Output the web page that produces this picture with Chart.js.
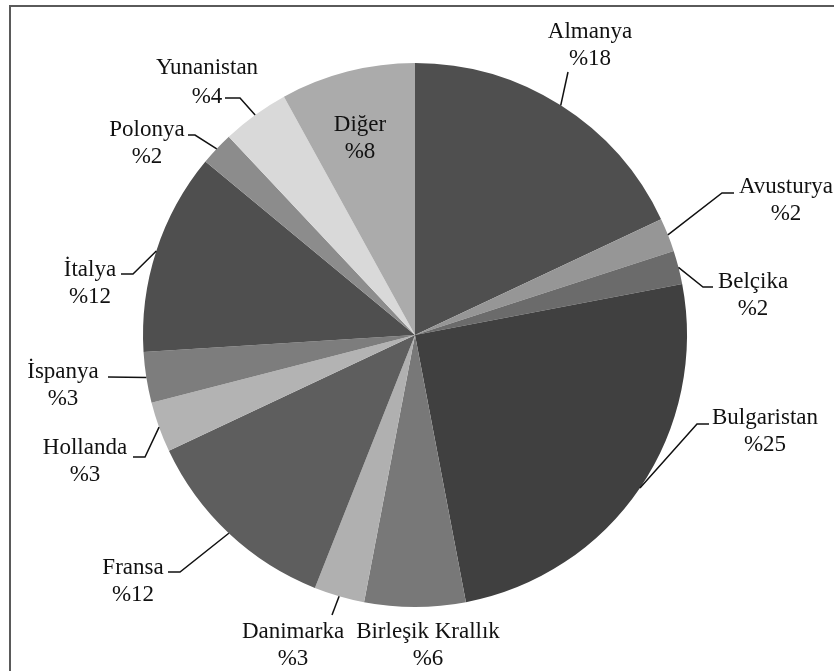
<!DOCTYPE html>
<html>
<head>
<meta charset="utf-8">
<script src="https://cdn.jsdelivr.net/npm/chart.js@4.4.1/dist/chart.umd.min.js"></script>
<style>
  html, body { margin: 0; padding: 0; background: #fff; overflow: hidden; }
  #wrap { position: relative; width: 834px; height: 671px; }
  #frame { position: absolute; left: 9px; top: 5px; width: 900px; height: 800px;
           border: 2px solid #5a5a5a; box-sizing: border-box; }
  canvas { position: absolute; left: 0; top: 0; }
</style>
</head>
<body>
<div id="wrap">
  <div id="frame"></div>
  <canvas id="pieChart" width="834" height="671"></canvas>
</div>
<script>
// data
const categories = ['Almanya', 'Avusturya', 'Belçika', 'Bulgaristan', 'Birleşik Krallık', 'Danimarka',
  'Fransa', 'Hollanda', 'İspanya', 'İtalya', 'Polonya', 'Yunanistan', 'Diğer'];
const shares = [18, 2, 2, 25, 6, 3, 12, 3, 3, 12, 2, 4, 8];
const sliceColors = ['#4f4f4f', '#969696', '#6b6b6b', '#404040', '#787878', '#b0b0b0',
  '#5e5e5e', '#b3b3b3', '#7d7d7d', '#4f4f4f', '#8c8c8c', '#d9d9d9', '#ababab'];

// where each label sits, and the bend/end of its leader line (null = no line)
const labelSpots = [
  { x: 590, y: 32, line: [[568, 72]] },
  { x: 786, y: 187, line: [[722, 193], [734, 193]] },
  { x: 753, y: 282, line: [[703, 287], [713, 287]] },
  { x: 765, y: 418, line: [[697, 424], [709, 424]] },
  { x: 428, y: 632, line: null },
  { x: 293, y: 632, line: [[332, 615]] },
  { x: 133, y: 568, line: [[180, 572], [168, 572]] },
  { x: 85, y: 448, line: [[145, 457], [133, 457]] },
  { x: 63, y: 372, line: [[108, 377]] },
  { x: 90, y: 270, line: [[133, 274], [121, 274]] },
  { x: 147, y: 130, line: [[195, 135], [188, 135]] },
  { x: 207, y: 68, line: [[240, 98], [225, 98]], gap: 29 },
  { x: 360, y: 125, line: null }
];

const pieLabels = {
  id: 'pieLabels',
  afterDraw(chart) {
    const ctx = chart.ctx;
    const meta = chart.getDatasetMeta(0);
    ctx.save();
    ctx.font = '23px "Liberation Serif", "Times New Roman", serif';
    ctx.textAlign = 'center';
    ctx.textBaseline = 'middle';
    ctx.fillStyle = '#111';
    ctx.strokeStyle = '#111';
    ctx.lineWidth = 1.5;
    meta.data.forEach((arc, i) => {
      const spot = labelSpots[i];
      if (spot.line) {
        const p = arc.getProps(['x', 'y', 'startAngle', 'endAngle', 'outerRadius'], true);
        const mid = (p.startAngle + p.endAngle) / 2;
        ctx.beginPath();
        ctx.moveTo(p.x + Math.cos(mid) * p.outerRadius, p.y + Math.sin(mid) * p.outerRadius);
        spot.line.forEach(pt => ctx.lineTo(pt[0], pt[1]));
        ctx.stroke();
      }
      ctx.fillText(categories[i], spot.x, spot.y);
      ctx.fillText('%' + shares[i], spot.x, spot.y + (spot.gap || 27));
    });
    ctx.restore();
  }
};

const ctx = document.getElementById('pieChart').getContext('2d');
new Chart(ctx, {
  type: 'pie',
  data: {
    labels: categories,
    datasets: [{
      data: shares,
      backgroundColor: sliceColors,
      borderWidth: 0,
      hoverOffset: 0
    }]
  },
  options: {
    responsive: false,
    animation: false,
    layout: { padding: { left: 143, right: 147, top: 63, bottom: 64 } },
    plugins: {
      legend: { display: false },
      tooltip: { enabled: false }
    }
  },
  plugins: [pieLabels]
});
</script>
</body>
</html>
